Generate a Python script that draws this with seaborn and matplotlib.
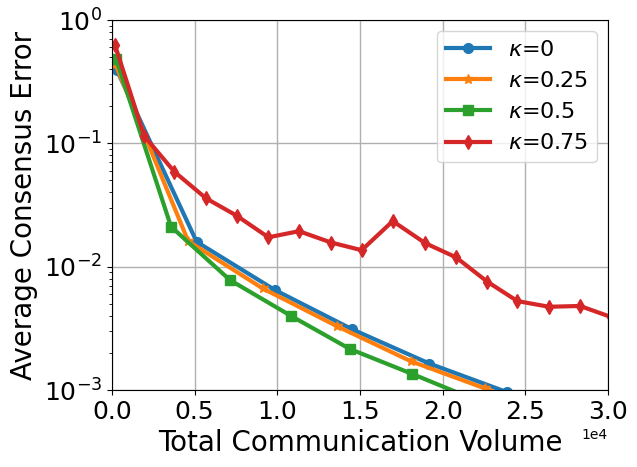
import matplotlib
matplotlib.use("Agg")
import matplotlib.pyplot as plt
import seaborn as sns
import pandas as pd

# kappa = 0
x_k0 = [300, 5120, 9860, 14540, 19190, 23900, 28500]
y_k0 = [0.39, 0.0159, 0.00646, 0.0031, 0.00164, 0.00096, 0.00055]
# kappa = 0.25
x_k25 = [200, 4610, 9110, 13590, 18080, 22560, 27050]
y_k25 = [0.44, 0.0161, 0.00667, 0.0033, 0.00171, 0.00103, 0.0006]
# kappa = 0.5
x_k5 = [250, 3570, 7140, 10810, 14390, 18160, 21800]
y_k5 = [0.483, 0.0211, 0.00778, 0.0040, 0.00215, 0.00135, 0.00085]
# kappa = 0.75
x_k75 = [180, 1950, 3770, 5690, 7540, 9460, 11310, 13250, 15100, 16980,
         18950, 20810, 22700, 24520, 26430, 28310, 30200]
y_k75 = [0.627, 0.1146, 0.0589, 0.0358, 0.0259, 0.0173, 0.0194, 0.0157,
         0.0136, 0.0234, 0.0155, 0.0119, 0.00755, 0.00526, 0.00473, 0.0048,
         0.0039]

labels = [r'$\kappa$=0', r'$\kappa$=0.25', r'$\kappa$=0.5', r'$\kappa$=0.75']
series = [(x_k0, y_k0), (x_k25, y_k25), (x_k5, y_k5), (x_k75, y_k75)]
markers = ['o', '*', 's', 'd']
colors = ['#1f77b4', '#ff7f0e', '#2ca02c', '#d62728']

fig, ax = plt.subplots(figsize=(6.37, 4.67), dpi=100)
for (xs, ys), lab, m, c in zip(series, labels, markers, colors):
    df = pd.DataFrame({'x': xs, 'y': ys})
    sns.lineplot(data=df, x='x', y='y', ax=ax, label=lab, marker=m,
                 color=c, linewidth=3, markersize=7, markeredgecolor=c,
                 markeredgewidth=1, sort=False, estimator=None)

ax.set_yscale('log')
ax.set_xlim(0, 30000)
ax.set_ylim(1e-3, 1)
ax.grid(True, which='major', color='#b0b0b0', linewidth=1)
ax.ticklabel_format(axis='x', style='sci', scilimits=(0, 0))
ax.tick_params(axis='both', which='major', labelsize=18)
ax.set_xlabel('Total Communication Volume', fontsize=20)
ax.set_ylabel('Average Consensus Error', fontsize=20)
ax.legend(loc='upper right', fontsize=16)
fig.subplots_adjust(left=112/637, right=608/637, top=1-20/467, bottom=1-390/467)
fig.savefig('out.png', dpi=100)
